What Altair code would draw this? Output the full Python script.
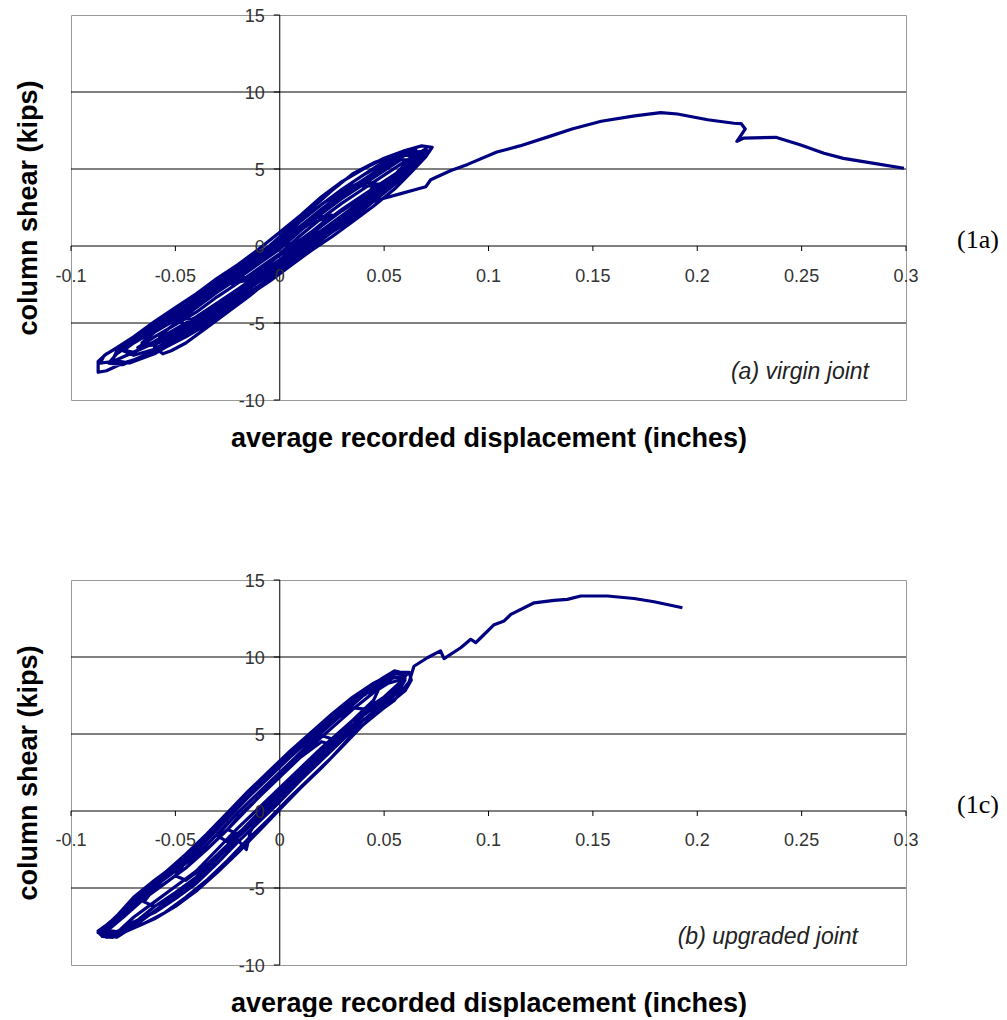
import altair as alt
import pandas as pd

# ---------------- data ----------------
x_ticks = [-0.1, -0.05, 0.0, 0.05, 0.1, 0.15, 0.2, 0.25, 0.3]
x_tick_labels = ["-0.1", "-0.05", "0", "0.05", "0.1", "0.15", "0.2", "0.25", "0.3"]
y_ticks = [15, 10, 5, 0, -5, -10]
y_tick_labels = ["15", "10", "5", "0", "-5", "-10"]
grid_values = [10, 5, -5]

# panel (a) virgin joint: (displacement, shear)
a_small = [
    (0.0, 0.0), (0.01, 0.3), (0.02, 1.3), (0.024, 1.9),
    (0.015, 1.5), (0.005, 0.6), (-0.005, -0.3), (-0.015, -1.3), (-0.022, -2.2),
    (-0.015, -2.0), (-0.005, -1.1), (0.005, -0.1), (0.015, 0.9), (0.025, 2.0),
    (0.015, 1.8), (0.0, 0.3), (-0.01, -0.7), (-0.02, -1.7), (-0.025, -2.5),
    (-0.015, -2.2), (0.0, -0.9),
]
a_mid = [
    (0.01, 0.0), (0.02, 0.9), (0.03, 1.9), (0.04, 3.0), (0.045, 3.9),
    (0.038, 3.9), (0.03, 3.3), (0.02, 2.4), (0.01, 1.3), (0.0, 0.2), (-0.01, -0.9),
    (-0.02, -1.9), (-0.03, -2.9), (-0.04, -3.9), (-0.047, -4.7),
    (-0.04, -4.8), (-0.03, -4.0), (-0.02, -3.1), (-0.01, -2.1), (0.0, -1.2), (0.01, -0.2),
    (0.02, 0.8), (0.03, 1.8), (0.04, 2.9), (0.048, 4.0),
    (0.04, 4.2), (0.03, 3.6), (0.02, 2.7), (0.01, 1.6), (0.0, 0.4), (-0.01, -0.7),
    (-0.02, -1.7), (-0.03, -2.7), (-0.04, -3.7), (-0.05, -4.8),
]
a_large = [
    (-0.045, -5.1), (-0.035, -4.4), (-0.025, -3.5), (-0.015, -2.5), (-0.005, -1.6),
    (0.005, -0.6), (0.015, 0.4), (0.025, 1.4), (0.035, 2.4), (0.045, 3.5), (0.055, 4.6),
    (0.062, 5.6), (0.065, 6.0),
    (0.06, 6.0), (0.05, 5.4), (0.04, 4.6), (0.03, 3.7), (0.02, 2.7), (0.01, 1.6), (0.0, 0.4),
    (-0.01, -0.7), (-0.02, -1.7), (-0.03, -2.6), (-0.04, -3.6), (-0.05, -4.6), (-0.06, -5.6),
    (-0.066, -6.3),
    (-0.06, -6.4), (-0.05, -5.8), (-0.04, -5.0), (-0.03, -4.1), (-0.02, -3.2), (-0.01, -2.3),
    (0.0, -1.4), (0.01, -0.4), (0.02, 0.6), (0.03, 1.5), (0.04, 2.6), (0.05, 3.8), (0.06, 5.0),
    (0.066, 5.8),
    (0.06, 5.9), (0.05, 5.2), (0.04, 4.3), (0.03, 3.3), (0.02, 2.2), (0.01, 1.1), (0.0, 0.0),
    (-0.01, -1.0), (-0.02, -2.0), (-0.03, -3.0), (-0.04, -4.0), (-0.05, -5.0), (-0.057, -5.8),
    (-0.06, -6.6), (-0.056, -7.0), (-0.052, -6.8),
    (-0.045, -6.3), (-0.035, -5.3), (-0.025, -4.3), (-0.015, -3.3), (-0.005, -2.2),
    (0.005, -1.1), (0.015, -0.1), (0.025, 0.9), (0.035, 1.8), (0.045, 2.9), (0.055, 4.0),
    (0.063, 5.0), (0.069, 5.8), (0.072, 6.2),
]
a_repeat = [
    (0.065, 6.1), (0.06, 5.9), (0.05, 5.0), (0.04, 4.1), (0.03, 3.2), (0.02, 2.2), (0.01, 1.1),
    (0.0, -0.1), (-0.01, -1.1), (-0.02, -2.0), (-0.03, -2.9), (-0.04, -3.9), (-0.05, -4.7),
    (-0.06, -5.5), (-0.07, -6.3), (-0.075, -6.8),
    (-0.07, -7.1), (-0.06, -6.7), (-0.05, -5.9), (-0.04, -5.1), (-0.03, -4.1), (-0.02, -3.2),
    (-0.01, -2.3), (0.0, -1.3), (0.01, -0.1), (0.02, 1.0), (0.03, 2.0), (0.04, 3.0), (0.05, 4.0),
    (0.06, 5.1), (0.067, 6.0),
    (0.06, 6.2), (0.05, 5.5), (0.04, 4.6), (0.03, 3.7), (0.02, 2.7), (0.01, 1.6), (0.0, 0.4),
    (-0.01, -0.6), (-0.02, -1.5), (-0.03, -2.4), (-0.04, -3.4), (-0.05, -4.3), (-0.06, -5.1),
    (-0.07, -6.0), (-0.078, -6.8), (-0.08, -7.4),
    (-0.072, -7.6), (-0.06, -7.0), (-0.05, -6.2), (-0.04, -5.4), (-0.03, -4.4), (-0.02, -3.5),
    (-0.01, -2.6), (0.0, -1.6), (0.01, -0.5), (0.02, 0.6), (0.03, 1.6), (0.04, 2.6), (0.05, 3.6),
    (0.06, 4.7), (0.068, 5.8), (0.07, 6.3),
    (0.06, 5.5), (0.05, 4.6), (0.04, 3.7), (0.03, 2.8), (0.02, 1.8), (0.01, 0.7), (0.0, -0.5),
    (-0.01, -1.45), (-0.02, -2.4), (-0.03, -3.3), (-0.04, -4.3), (-0.05, -5.1), (-0.06, -5.9),
    (-0.068, -6.6),
    (-0.06, -6.4), (-0.05, -5.6), (-0.04, -4.8), (-0.03, -3.8), (-0.02, -2.9), (-0.01, -1.95),
    (0.0, -1.0), (0.01, 0.2), (0.02, 1.3), (0.03, 2.3), (0.04, 3.2), (0.05, 4.1), (0.06, 5.0),
    (0.065, 5.6),
]
a_more = [
    (0.058, 5.6), (0.05, 4.9), (0.04, 4.0), (0.03, 3.1), (0.02, 2.1), (0.01, 1.0), (0.0, -0.2),
    (-0.01, -1.15), (-0.02, -2.1), (-0.03, -3.0), (-0.04, -4.0), (-0.05, -4.8), (-0.06, -5.6),
    (-0.07, -6.25), (-0.078, -7.0), (-0.082, -7.6),
    (-0.075, -7.7), (-0.065, -7.1), (-0.055, -6.4), (-0.045, -5.6), (-0.035, -4.7),
    (-0.025, -3.75), (-0.015, -2.8), (-0.005, -1.85), (0.005, -0.75), (0.015, 0.35),
    (0.025, 1.4), (0.035, 2.35), (0.045, 3.25), (0.055, 4.15), (0.063, 5.1), (0.068, 5.9),
    (0.06, 6.0), (0.05, 5.2), (0.04, 4.3), (0.03, 3.4), (0.02, 2.4), (0.01, 1.3), (0.0, 0.1),
    (-0.01, -0.85), (-0.02, -1.8), (-0.03, -2.7), (-0.04, -3.7), (-0.05, -4.5), (-0.06, -5.3),
    (-0.07, -6.1), (-0.077, -6.7),
    (-0.07, -6.9), (-0.06, -6.3), (-0.05, -5.5), (-0.04, -4.7), (-0.03, -3.7), (-0.02, -2.8),
    (-0.01, -1.85), (0.0, -0.9), (0.01, 0.3), (0.02, 1.4), (0.03, 2.4), (0.04, 3.3), (0.05, 4.2),
    (0.06, 5.1), (0.066, 5.9),
]
a_peak = [
    (0.065, 6.3), (0.055, 5.9), (0.045, 5.4), (0.035, 4.7), (0.025, 3.6), (0.015, 2.4),
    (0.005, 1.2), (-0.005, 0.0), (-0.015, -0.9), (-0.025, -1.8), (-0.035, -2.8),
    (-0.045, -3.8), (-0.055, -4.7), (-0.065, -5.6), (-0.075, -6.4), (-0.083, -7.0),
    (-0.087, -7.5), (-0.087, -8.2),
    (-0.083, -8.1), (-0.075, -7.6), (-0.065, -7.2), (-0.055, -6.6), (-0.045, -5.9),
    (-0.035, -5.1), (-0.025, -4.2), (-0.015, -3.2), (-0.005, -2.3), (0.005, -1.3),
    (0.015, -0.3), (0.025, 0.6), (0.035, 1.6), (0.045, 2.6), (0.055, 3.7), (0.063, 4.8),
    (0.07, 5.8), (0.073, 6.4),
    (0.068, 6.5), (0.06, 6.2), (0.05, 5.7), (0.04, 5.0), (0.03, 4.2), (0.02, 3.2), (0.01, 2.0),
    (0.0, 0.9), (-0.01, -0.2), (-0.02, -1.2), (-0.03, -2.1), (-0.04, -3.1), (-0.05, -4.0),
    (-0.06, -4.9), (-0.07, -5.9), (-0.078, -6.6), (-0.084, -7.1), (-0.086, -7.6),
]
a_final = [
    (-0.08, -7.5), (-0.07, -6.9), (-0.06, -6.2), (-0.05, -5.4), (-0.04, -4.6), (-0.03, -3.7),
    (-0.02, -2.8), (-0.01, -1.9), (0.0, -0.9), (0.01, 0.1), (0.02, 1.0), (0.03, 1.9),
    (0.04, 2.7), (0.05, 3.1), (0.058, 3.4), (0.066, 3.7), (0.07, 3.85), (0.0723, 4.3),
    (0.082, 4.9), (0.09, 5.3), (0.104, 6.1), (0.115, 6.5), (0.13, 7.15), (0.14, 7.6),
    (0.154, 8.1), (0.17, 8.45), (0.1825, 8.66), (0.1905, 8.57), (0.205, 8.2), (0.2176, 7.97),
    (0.221, 7.95), (0.223, 7.6), (0.219, 6.8), (0.222, 7.0), (0.2376, 7.06), (0.2496, 6.56),
    (0.2607, 6.02), (0.27, 5.69), (0.2847, 5.37), (0.299, 5.05),
]

# panel (b) upgraded joint
b_small = [
    (0.0, 1.5), (0.01, 2.4), (0.02, 3.5), (0.025, 4.3),
    (0.02, 4.5), (0.01, 3.5), (0.0, 2.2), (-0.01, 0.9), (-0.02, -0.4), (-0.025, -1.2),
    (-0.02, -1.5), (-0.01, -0.2), (0.0, 1.1), (0.01, 2.5), (0.02, 3.7), (0.027, 4.6),
    (0.02, 4.9), (0.01, 3.8), (0.0, 2.5), (-0.01, 1.2), (-0.02, -0.1), (-0.03, -1.6),
]
b_mid = [
    (-0.025, -2.0), (-0.015, -0.9), (-0.005, 0.4), (0.005, 1.8), (0.015, 3.1), (0.025, 4.3),
    (0.035, 5.6), (0.042, 6.6),
    (0.035, 6.7), (0.025, 5.8), (0.015, 4.7), (0.005, 3.5), (-0.005, 2.2), (-0.015, 0.9),
    (-0.025, -0.5), (-0.035, -1.9), (-0.045, -3.3), (-0.05, -4.2),
    (-0.045, -4.5), (-0.035, -3.5), (-0.025, -2.2), (-0.015, -0.8), (-0.005, 0.6),
    (0.005, 1.9), (0.015, 3.3), (0.025, 4.6), (0.035, 5.9), (0.045, 7.2), (0.047, 7.8),
    (0.04, 7.6), (0.03, 6.5), (0.02, 5.4), (0.01, 4.2), (0.0, 3.0), (-0.01, 1.7), (-0.02, 0.3),
    (-0.03, -1.1), (-0.04, -2.5), (-0.05, -3.7), (-0.06, -5.0), (-0.065, -5.9),
]
b_large = [
    (-0.06, -6.2), (-0.05, -5.4), (-0.04, -4.3), (-0.03, -3.0), (-0.02, -1.9), (-0.016, -2.5),
    (-0.014, -1.3), (-0.01, -0.5), (0.0, 0.9), (0.01, 2.3), (0.02, 3.6), (0.03, 4.9),
    (0.04, 6.2), (0.05, 7.3), (0.058, 8.3), (0.061, 9.0),
    (0.055, 9.0), (0.045, 8.3), (0.035, 7.4), (0.025, 6.3), (0.015, 5.1), (0.005, 3.9),
    (-0.005, 2.6), (-0.015, 1.3), (-0.025, -0.1), (-0.035, -1.5), (-0.045, -2.8),
    (-0.055, -4.0), (-0.065, -5.2), (-0.075, -6.5), (-0.083, -7.4), (-0.087, -7.8),
    (-0.085, -8.15), (-0.08, -8.2),
    (-0.07, -7.6), (-0.06, -7.0), (-0.05, -6.2), (-0.04, -5.2), (-0.03, -4.0), (-0.02, -2.7),
    (-0.01, -1.3), (0.0, 0.1), (0.01, 1.5), (0.02, 2.8), (0.03, 4.2), (0.04, 5.6), (0.05, 6.7),
    (0.06, 7.8), (0.063, 8.5), (0.062, 9.0),
    (0.055, 8.9), (0.045, 8.0), (0.035, 7.1), (0.025, 6.0), (0.015, 4.9), (0.005, 3.7),
    (-0.005, 2.4), (-0.015, 1.0), (-0.025, -0.4), (-0.035, -1.7), (-0.045, -2.9),
    (-0.055, -4.0), (-0.065, -5.3), (-0.075, -6.7), (-0.084, -7.5), (-0.087, -7.9),
    (-0.083, -8.2),
]
b_repeat = [
    (-0.075, -7.6), (-0.07, -7.2), (-0.06, -6.6), (-0.05, -5.7), (-0.04, -4.7), (-0.03, -3.4),
    (-0.02, -2.0), (-0.01, -0.7), (0.0, 0.6), (0.01, 2.0), (0.02, 3.3), (0.03, 4.6),
    (0.04, 5.9), (0.05, 7.0), (0.058, 8.1), (0.06, 8.8),
    (0.053, 8.6), (0.045, 8.0), (0.035, 7.0), (0.025, 5.9), (0.015, 4.8), (0.005, 3.5),
    (-0.005, 2.3), (-0.015, 1.0), (-0.025, -0.3), (-0.035, -1.7), (-0.045, -3.0),
    (-0.055, -4.2), (-0.065, -5.4), (-0.075, -6.8), (-0.083, -7.7), (-0.086, -8.0),
    (-0.078, -8.0), (-0.07, -7.3), (-0.06, -6.2), (-0.05, -5.3), (-0.04, -4.3), (-0.03, -2.9),
    (-0.02, -1.5), (-0.01, -0.1), (0.0, 1.2), (0.01, 2.5), (0.02, 3.8), (0.03, 5.0),
    (0.04, 6.2), (0.05, 7.2), (0.057, 8.0), (0.06, 8.6),
    (0.052, 8.3), (0.045, 7.7), (0.035, 6.6), (0.025, 5.4), (0.015, 4.2), (0.005, 2.9),
    (-0.005, 1.6), (-0.015, 0.2), (-0.025, -1.2), (-0.035, -2.5), (-0.045, -3.7),
    (-0.055, -4.7), (-0.065, -5.7), (-0.075, -6.9), (-0.082, -7.7), (-0.085, -8.1),
]
b_more = [
    (-0.078, -8.2), (-0.07, -7.5), (-0.06, -6.5), (-0.05, -5.5), (-0.04, -4.5), (-0.03, -3.1),
    (-0.02, -1.7), (-0.01, -0.4), (0.0, 0.9), (0.01, 2.2), (0.02, 3.5), (0.03, 4.7),
    (0.04, 5.9), (0.05, 6.9), (0.057, 7.8), (0.06, 8.5),
    (0.055, 8.7), (0.05, 8.3), (0.04, 7.5), (0.03, 6.3), (0.02, 5.1), (0.01, 3.8), (0.0, 2.5),
    (-0.01, 1.2), (-0.02, -0.1), (-0.03, -1.5), (-0.04, -2.9), (-0.05, -3.9), (-0.06, -4.9),
    (-0.07, -6.0), (-0.078, -7.0), (-0.084, -7.7),
    (-0.078, -7.9), (-0.07, -6.9), (-0.06, -5.9), (-0.05, -4.9), (-0.04, -3.9), (-0.03, -2.5),
    (-0.02, -1.1), (-0.01, 0.2), (0.0, 1.5), (0.01, 2.8), (0.02, 4.1), (0.03, 5.3),
    (0.04, 6.5), (0.05, 7.4), (0.058, 8.4), (0.061, 8.9),
    (0.055, 9.1), (0.05, 8.7), (0.04, 7.8), (0.03, 6.7), (0.02, 5.5), (0.01, 4.2), (0.0, 2.9),
    (-0.01, 1.6), (-0.02, 0.3), (-0.03, -1.1), (-0.04, -2.5), (-0.05, -3.5), (-0.06, -4.5),
    (-0.07, -5.6), (-0.078, -6.8), (-0.085, -7.7),
]
b_final = [
    (-0.075, -7.9), (-0.065, -7.3), (-0.055, -6.6), (-0.045, -5.6), (-0.035, -4.5),
    (-0.025, -3.2), (-0.015, -1.8), (-0.005, -0.5), (0.005, 0.9), (0.015, 2.2), (0.025, 3.5),
    (0.035, 5.0), (0.045, 6.2), (0.055, 7.2), (0.062, 8.4), (0.0643, 9.4), (0.0707, 9.95),
    (0.077, 10.4), (0.0787, 9.9), (0.0867, 10.6), (0.0915, 11.15), (0.0939, 10.93),
    (0.0963, 11.25), (0.1027, 12.1), (0.1075, 12.34), (0.1107, 12.77), (0.1219, 13.52),
    (0.1314, 13.68), (0.1378, 13.74), (0.1442, 13.96), (0.157, 13.96), (0.1697, 13.8),
    (0.1793, 13.59), (0.1929, 13.2),
]

X_TITLE = "average recorded displacement (inches)"
Y_TITLE = "column shear (kips)"
LINE_COLOR = "#000080"
SANS = "Liberation Sans"

xs = alt.Scale(domain=[-0.1, 0.3], nice=False, zero=False)
ys = alt.Scale(domain=[-10, 15], nice=False, zero=False)
x_axis = alt.Axis(labels=False, ticks=False, domain=False, grid=False,
                  titleFont=SANS, titleFontSize=27, titleFontWeight="bold",
                  titleColor="black", titlePadding=25)
y_axis = alt.Axis(labels=False, ticks=False, domain=False, grid=False,
                  titleFont=SANS, titleFontSize=27, titleFontWeight="bold",
                  titleColor="black", titlePadding=29)


def X(f):
    return alt.X(f, type="quantitative", scale=xs, axis=x_axis, title=X_TITLE)


def Y(f):
    return alt.Y(f, type="quantitative", scale=ys, axis=y_axis, title=Y_TITLE)


def panel(segments, note, note_x, tag, w=835, h=385, label_dy=31):
    pts = [p for seg in segments for p in seg]
    df = pd.DataFrame(pts, columns=["d", "s"])
    df["i"] = range(len(df))
    grid_df = pd.DataFrame({"g": grid_values})
    zero_df = pd.DataFrame({"z": [0]})
    xt_df = pd.DataFrame({"t": x_ticks, "lab": x_tick_labels, "z": [0] * len(x_ticks)})
    yt_df = pd.DataFrame({"t": y_ticks, "lab": y_tick_labels, "z": [0] * len(y_ticks)})

    grid = alt.Chart(grid_df).mark_rule(color="black", strokeWidth=1).encode(y=Y("g"))
    hzero = alt.Chart(zero_df).mark_rule(color="black", strokeWidth=1).encode(y=Y("z"))
    vzero = alt.Chart(zero_df).mark_rule(color="black", strokeWidth=1).encode(x=X("z"))
    xticks = alt.Chart(xt_df).mark_rule(color="black", strokeWidth=1, y2Offset=5).encode(
        x=X("t"), y=Y("z"), y2="z")
    yticks = alt.Chart(yt_df).mark_rule(color="black", strokeWidth=1, x2Offset=-6).encode(
        x=X("z"), x2="z", y=Y("t"))
    line = alt.Chart(df).mark_line(color=LINE_COLOR, strokeWidth=3.2,
                                   strokeJoin="round").encode(
        x=X("d"), y=Y("s"), order="i")
    xlabels = alt.Chart(xt_df).mark_text(font=SANS, fontSize=18, color="#333333",
                                         baseline="middle", align="center",
                                         dy=label_dy).encode(
        x=X("t"), y=Y("z"), text="lab")
    ylabels = alt.Chart(yt_df).mark_text(font=SANS, fontSize=18, color="#333333",
                                         baseline="middle", align="right",
                                         dx=-15, dy=2).encode(
        x=X("z"), y=Y("t"), text="lab")
    note_t = alt.Chart(pd.DataFrame({"n": [note]})).mark_text(
        font=SANS, fontSize=23, fontStyle="italic", color="#222222",
        align="right", baseline="middle").encode(
        x=alt.value(note_x), y=alt.value(h - 28), text="n")
    tag_t = alt.Chart(pd.DataFrame({"n": [tag]})).mark_text(
        font="Liberation Serif", fontSize=26, color="black",
        align="center", baseline="middle").encode(
        x=alt.value(w + 72), y=alt.value(h * 0.585), text="n")
    return alt.layer(grid, hzero, vzero, xticks, yticks, line, xlabels, ylabels,
                     note_t, tag_t).properties(width=w, height=h)


top = panel([a_small, a_mid, a_large, a_repeat, a_more, a_peak, a_final],
            "(a) virgin joint", 798, "(1a)")
bottom = panel([b_small, b_mid, b_large, b_repeat, b_more, b_final],
               "(b) upgraded joint", 787, "(1c)", label_dy=30)

chart = alt.vconcat(top, bottom, spacing=120).properties(
    padding={"left": 13, "top": 7, "right": 0, "bottom": 0},
    background="white",
).configure_view(stroke="#999999", strokeWidth=1)

chart.save("out.html", embed_options={"renderer": "svg", "actions": False})
